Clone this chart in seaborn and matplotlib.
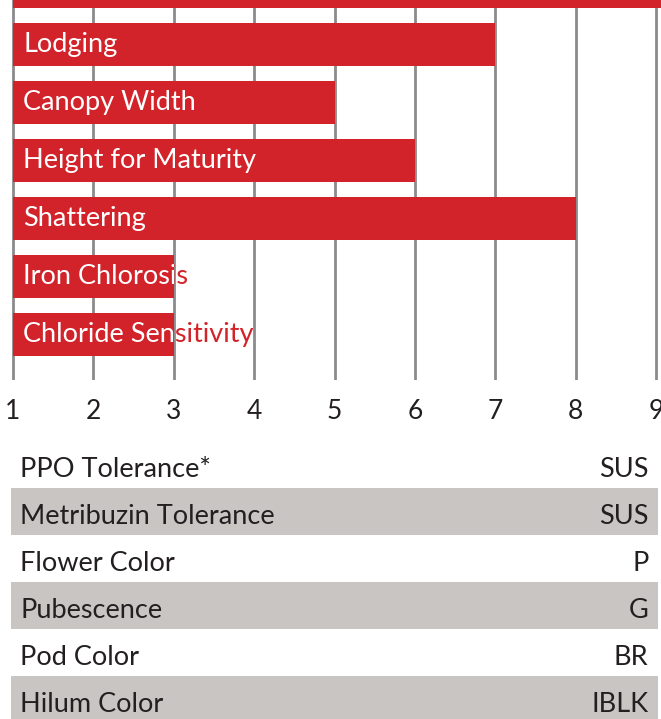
import matplotlib
matplotlib.use("Agg")
import matplotlib.pyplot as plt
import seaborn as sns
from matplotlib.transforms import Bbox, TransformedBbox

# Trait ratings (1 = poor, 9 = excellent); top bar is cut off in the source
traits = ["", "Lodging", "Canopy Width", "Height for Maturity", "Shattering",
          "Iron Chlorosis", "Chloride Sensitivity"]
ratings = [9.1, 7, 5, 6, 8, 3, 3]
tick_values = [1, 2, 3, 4, 5, 6, 7, 8, 9]

# Characteristics table
char_labels = ["PPO Tolerance*", "Metribuzin Tolerance", "Flower Color",
               "Pubescence", "Pod Color", "Hilum Color"]
char_values = ["SUS", "SUS", "P", "G", "BR", "IBLK"]

RED = "#d2232a"
GREY_ROW = "#c9c5c2"
GRID = "#8b8b8d"
TEXT = "#231f20"

sns.set_theme(style="white")
plt.rcParams["font.family"] = ["Lato", "DejaVu Sans"]

fig = plt.figure(figsize=(6.61, 7.19), dpi=100)

# ---- bar chart ----
ax = fig.add_axes([0, 1 - 380 / 719, 1, 380 / 719])
sns.barplot(x=ratings, y=traits, orient="h", color=RED, width=0.74,
            saturation=1, linewidth=0, ax=ax)

# bars start from the baseline of 1
for p in ax.patches:
    p.set_width(p.get_width() - 1)
    p.set_x(1)

ax.set_xlim(0.84, 9.06)
ax.set_ylim(6.79, 0.24)
ax.set_xticks(tick_values)
ax.set_xticklabels([str(t) for t in tick_values], fontsize=19, color=TEXT)
ax.set_yticks([])
ax.set_xlabel("")
ax.set_ylabel("")
ax.tick_params(axis="x", length=0, pad=14)
ax.grid(axis="x", color=GRID, linewidth=2.0)
ax.set_axisbelow(True)
for s in ax.spines.values():
    s.set_visible(False)

for name, p in zip(traits, ax.patches):
    if not name:
        continue
    yc = p.get_y() + p.get_height() / 2 - 0.03
    ax.text(1.13, yc, name, color=RED, fontsize=19.5, va="center_baseline",
            ha="left", zorder=5)
    t = ax.text(1.13, yc, name, color="white", fontsize=19.5,
                va="center_baseline", ha="left", zorder=6)
    bb = Bbox([[p.get_x(), p.get_y()],
               [p.get_x() + p.get_width(), p.get_y() + p.get_height()]])
    t.set_clip_box(TransformedBbox(bb, ax.transData))
    t.set_clip_on(True)

# ---- characteristics table ----
ax2 = fig.add_axes([0, 0, 1, 278 / 719])
rows = list(range(len(char_labels)))
shaded = [r for r in rows if r % 2 == 1]
ax2.barh(shaded, [0.98] * len(shaded), left=0.016, height=1.0,
         color=GREY_ROW, linewidth=0)
for r, lab, val in zip(rows, char_labels, char_values):
    ax2.text(0.031, r + 0.05, lab, fontsize=19.5, color=TEXT,
             va="center_baseline", ha="left")
    ax2.text(0.981, r + 0.05, val, fontsize=19.5, color=TEXT,
             va="center_baseline", ha="right")
ax2.set_xlim(0, 1)
ax2.set_ylim(-0.5 + 278 / 47, -0.5)
ax2.axis("off")

fig.savefig("out.png", dpi=100)
